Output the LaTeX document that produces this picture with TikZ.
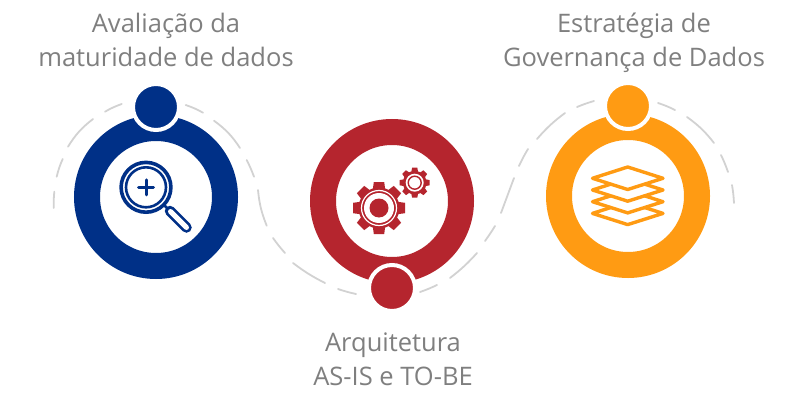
\documentclass[tikz,border=0pt]{standalone}
\usepackage{fontspec}
\setmainfont{Open Sans}
\definecolor{cblue}{HTML}{003087}
\definecolor{cred}{HTML}{B5252E}
\definecolor{corange}{HTML}{FF9B13}
\definecolor{cgray}{HTML}{7F7F7F}
\definecolor{cdash}{HTML}{D2D2D2}
\tikzset{
 dashpiece/.style={draw=cdash,line width=1.8pt,line cap=round},
 lbl/.style={text=cgray,align=center,font=\fontsize{25.5}{34}\selectfont,inner sep=0pt},
 ring/.style={circle,draw=#1,line width=26pt,fill=white,minimum size=138pt,inner sep=0pt},
 knob/.style={circle,fill=#1,draw=white,line width=4pt,minimum size=46pt,inner sep=0pt},
}
\begin{document}
\begin{tikzpicture}[x=1pt,y=-1pt]
\useasboundingbox (0,0) rectangle (800,409);
% dashed path
\foreach \xa/\ya/\xb/\yb/\bnd in {
 53.7/208/54.3/191.7/3, 56.7/176.7/62.7/159/5, 68/146.7/93/119/10, 105/111.7/121.7/104/5,
 185.7/105/203/112.7/5, 214/120.7/240/148/10, 246.7/160/254/176.7/3, 258/190/266.7/225.7/-8,
 273/238/285/253/-3, 293/263/325/283/-5, 338/289/356/294/-3,
 420/292/437/285/-3, 450/278/477/253/-5, 485/241/495/226/-2, 501/213/514/178/0,
 519/166/528/149/3, 537/139/565/113/6, 577/107/594/101/3,
 658/103/675/110/4, 687/117/714/143/8, 721/155/728/172/3, 732/185/734/203/3}
 {\draw[dashpiece] (\xa,\ya) to[bend left=\bnd] (\xb,\yb);}
% rings
\node[ring=cblue] (r1) at (156,197) {};
\node[ring=cred] (r2) at (392,201) {};
\node[ring=corange] (r3) at (628,196) {};
\node[knob=cblue] (k1) at (156,107) {};
\node[knob=cred] (k2) at (392,288) {};
\node[knob=corange] (k3) at (628,106) {};
% magnifier
\begin{scope}[cblue]
 \draw[line width=2.5pt] (164,205) -- (170,211);
 \draw[line width=10.5pt,line cap=round] (170,211) -- (186.5,227.5);
 \draw[white,line width=5pt,line cap=round] (170.5,211.5) -- (186.5,227.5);
 \draw[line width=3.6pt,fill=white] (146,187.3) circle (24.9);
 \draw[line width=2.6pt] (146,187.3) circle (20);
 \draw[line width=3pt,line cap=round] (138.5,187.3) -- (153.5,187.3) (146,179.8) -- (146,194.8);
\end{scope}
% gears
\foreach \cx/\cy/\Ro/\Rb/\tw in {379/208/26/20.5/5.2, 414.7/182.7/15/11.8/2.6}{
 \fill[cred] (\cx,\cy) circle (\Rb);
 \foreach \k in {0,...,7}{
  \fill[cred,rotate around={\k*45:(\cx,\cy)}] (\cx-\tw-1,\cy-\Rb+2) -- (\cx-\tw,\cy-\Ro) -- (\cx+\tw,\cy-\Ro) -- (\cx+\tw+1,\cy-\Rb+2) -- cycle;
 }
}
\draw[white,line width=1.2pt] (379,208) circle (17.5);
\fill[white] (379,208) circle (15);
\fill[cred] (379,208) circle (9.5);
\fill[white] (414.7,182.7) circle (9);
\draw[cred,line width=1.4pt] (414.7,182.7) circle (6.5);
% layers
\foreach \d in {35.1,23.4,11.7,0}{
 \draw[corange,fill=white,line width=3.4pt,line join=round] (627.7,167+\d) -- (663,178.3+\d) -- (627.7,189.5+\d) -- (592.5,178.3+\d) -- cycle;
}
% labels
\node[lbl,anchor=base] (t1) at (166,67) {Avaliação da\\maturidade de dados};
\node[lbl,anchor=base] (t2) at (393,385) {Arquitetura\\AS-IS e TO-BE};
\node[lbl,anchor=base] (t3) at (634,67) {Estratégia de\\Governança de Dados};
\end{tikzpicture}
\end{document}
